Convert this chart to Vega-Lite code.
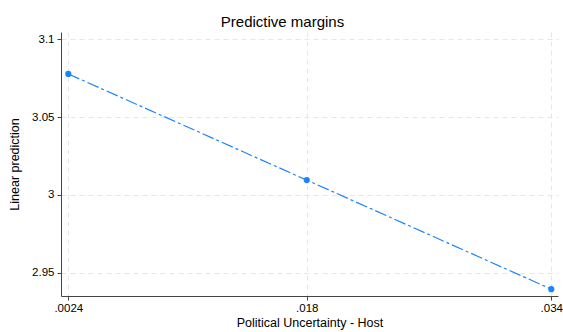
{
  "$schema": "https://vega.github.io/schema/vega-lite/v6.json",
  "width": 497,
  "height": 264,
  "autosize": "none",
  "padding": {"left": 61, "top": 32, "right": 5, "bottom": 36},
  "background": "white",
  "title": {
    "text": "Predictive margins",
    "font": "Liberation Sans",
    "fontSize": 15,
    "fontWeight": "normal",
    "color": "#000000",
    "anchor": "middle",
    "dx": -27,
    "offset": 2
  },
  "config": {
    "view": {"stroke": null},
    "axis": {
      "labelFont": "Liberation Sans",
      "labelFontSize": 11.5,
      "labelColor": "#000000",
      "titleFont": "Liberation Sans",
      "titleFontSize": 12.5,
      "titleFontWeight": "normal",
      "titleColor": "#000000",
      "domainColor": "#444444",
      "tickColor": "#444444",
      "tickSize": 4,
      "grid": true,
      "gridColor": "#e6e6e6",
      "gridDash": [5, 4],
      "gridWidth": 1
    }
  },
  "data": {
    "values": [
      {"pu": 0.0024, "pred": 3.0778},
      {"pu": 0.018, "pred": 3.0095},
      {"pu": 0.034, "pred": 2.9393}
    ]
  },
  "encoding": {
    "x": {
      "field": "pu",
      "type": "quantitative",
      "scale": {"domain": [0.001922, 0.034438], "nice": false, "zero": false},
      "axis": {
        "title": "Political Uncertainty - Host",
        "values": [0.0024, 0.018, 0.034],
        "labelExpr": "substring(toString(datum.value), 1)",
        "labelPadding": 2,
        "titlePadding": 3
      }
    },
    "y": {
      "field": "pred",
      "type": "quantitative",
      "scale": {"domain": [2.9349, 3.1048], "nice": false, "zero": false},
      "axis": {
        "title": "Linear prediction",
        "values": [2.95, 3, 3.05, 3.1],
        "labelExpr": "toString(datum.value)",
        "labelPadding": 3,
        "titlePadding": 10
      }
    }
  },
  "layer": [
    {
      "mark": {"type": "line", "color": "#1a85ff", "strokeWidth": 1.2, "strokeDash": [12, 3, 3, 3]}
    },
    {
      "mark": {"type": "point", "filled": true, "color": "#1a85ff", "opacity": 1, "size": 38}
    }
  ]
}
